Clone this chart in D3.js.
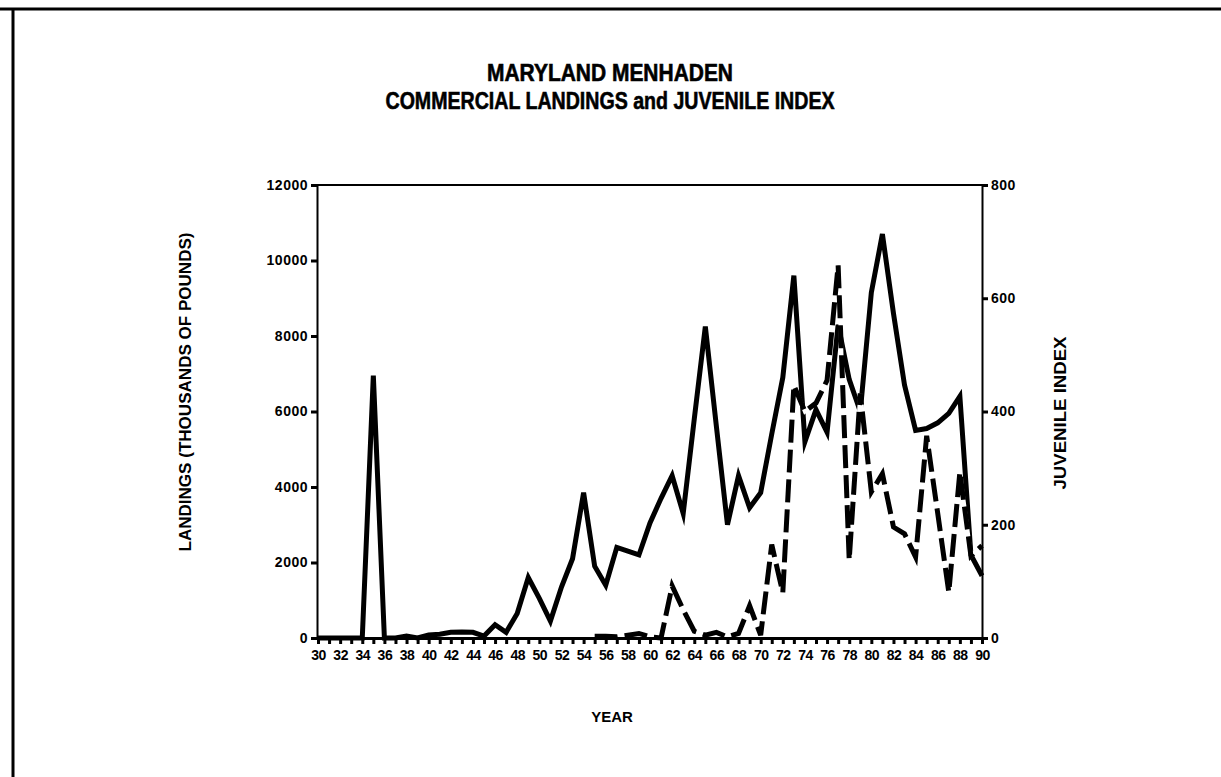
<!DOCTYPE html>
<html>
<head>
<meta charset="utf-8">
<script src="https://cdn.jsdelivr.net/npm/d3@7"></script>
<style>
  html, body { margin: 0; padding: 0; background: #fff; }
  svg text { font-family: "Liberation Sans", Arial, Helvetica, sans-serif; font-weight: bold; fill: #000; }
</style>
</head>
<body>
<svg id="chart" width="1221" height="777"></svg>
<script>
// Maryland menhaden: commercial landings (thousands of pounds) and juvenile index, 1930-1990
const landingYears = d3.range(30, 91);
const landings = [
  0, 0, 0, 0, 0, 6950, 0, 0, 50, 0,                     // 30-39
  80, 100, 150, 160, 150, 50, 350, 150, 650, 1600,       // 40-49
  1050, 450, 1350, 2100, 3850, 1900, 1400, 2400, 2300, 2200, // 50-59
  3050, 3700, 4300, 3300, 5800, 8250, 5600, 3000, 4300, 3450, // 60-69
  3850, 5400, 6900, 9600, 5200, 6050, 5450, 8300, 6850, 6000, // 70-79
  9150, 10700, 8600, 6700, 5500, 5550, 5700, 5950, 6400, 2200, 1650 // 80-90
];

const juvenileYears = d3.range(55, 91);
const juvenileIndex = [
  3, 3, 2, 5, 8,                                   // 55-59
  2, 0, 92, 50, 12, 5, 10, 2, 8, 57,               // 60-69
  5, 165, 80, 446, 400, 415, 455, 658, 138, 432,   // 70-79
  258, 290, 196, 184, 143, 357, 220, 81, 293, 145, 163 // 80-90
];

const leftTicks = [0, 2000, 4000, 6000, 8000, 10000, 12000];
const rightTicks = [0, 200, 400, 600, 800];
const yearLabels = d3.range(30, 91, 2);

const titleLines = ["MARYLAND MENHADEN", "COMMERCIAL LANDINGS and JUVENILE INDEX"];
const leftLabel = "LANDINGS (THOUSANDS OF POUNDS)";
const rightLabel = "JUVENILE INDEX";
const xLabel = "YEAR";

const svg = d3.select("#chart");
svg.append("rect").attr("width", 1221).attr("height", 777).attr("fill", "#fff");

// page frame (top and left rules)
svg.append("line").attr("x1", 0).attr("x2", 1221).attr("y1", 9).attr("y2", 9)
  .attr("stroke", "#000").attr("stroke-width", 3);
svg.append("line").attr("x1", 13).attr("x2", 13).attr("y1", 8).attr("y2", 777)
  .attr("stroke", "#000").attr("stroke-width", 3);

const plot = { left: 317, right: 982, top: 185, bottom: 638 };

const x = d3.scaleLinear().domain([30, 90]).range([plot.left + 1, plot.right]);
const yL = d3.scaleLinear().domain([0, 12000]).range([plot.bottom, plot.top]);
const yR = d3.scaleLinear().domain([0, 800]).range([plot.bottom, plot.top]);

// title, two centred lines in a heavy condensed face
const title = svg.append("g");
title.append("text").attr("x", 610).attr("y", 81).attr("text-anchor", "middle")
  .attr("font-size", 24).attr("textLength", 246).attr("lengthAdjust", "spacingAndGlyphs")
  .attr("stroke", "#000").attr("stroke-width", 0.6)
  .text(titleLines[0]);
title.append("text").attr("x", 610).attr("y", 109).attr("text-anchor", "middle")
  .attr("font-size", 24).attr("textLength", 449).attr("lengthAdjust", "spacingAndGlyphs")
  .attr("stroke", "#000").attr("stroke-width", 0.6)
  .text(titleLines[1]);

// series lines
const landingLine = d3.line().x((d, i) => x(landingYears[i])).y(d => yL(d));
const juvenileLine = d3.line().x((d, i) => x(juvenileYears[i])).y(d => yR(d));

svg.append("path").datum(landings).attr("d", landingLine)
  .attr("fill", "none").attr("stroke", "#000").attr("stroke-width", 5)
  .attr("stroke-linejoin", "miter").attr("stroke-miterlimit", 6);

// juvenile index: white knock-out under the dashes, then black dashes
svg.append("path").datum(juvenileIndex).attr("d", juvenileLine)
  .attr("fill", "none").attr("stroke", "#fff").attr("stroke-width", 4);
svg.append("path").datum(juvenileIndex).attr("d", juvenileLine)
  .attr("fill", "none").attr("stroke", "#000").attr("stroke-width", 5)
  .attr("stroke-dasharray", "23,7").attr("stroke-linejoin", "miter");

// plot frame top
svg.append("line").attr("x1", plot.left).attr("x2", plot.right)
  .attr("y1", plot.top).attr("y2", plot.top).attr("stroke", "#000").attr("stroke-width", 2);

// left axis
const axL = svg.append("g").attr("transform", `translate(${plot.left},0)`)
  .call(d3.axisLeft(yL).tickValues(leftTicks).tickSize(6).tickSizeOuter(0).tickPadding(3)
    .tickFormat(d3.format("d")));
// right axis
const axR = svg.append("g").attr("transform", `translate(${plot.right},0)`)
  .call(d3.axisRight(yR).tickValues(rightTicks).tickSize(6).tickSizeOuter(0).tickPadding(3)
    .tickFormat(d3.format("d")));
// bottom axis, a tick every year, labels every second year
const axB = svg.append("g").attr("transform", `translate(0,${plot.bottom})`)
  .call(d3.axisBottom(x).tickValues(landingYears).tickSize(6).tickSizeOuter(0).tickPadding(6)
    .tickFormat(d => (yearLabels.includes(d) ? d : "")));

[axL, axR].forEach(g => {
  g.select(".domain").attr("stroke", "#000").attr("stroke-width", 2);
  g.selectAll(".tick line").attr("stroke", "#000").attr("stroke-width", 3);
  g.selectAll(".tick text").attr("font-size", 14).attr("font-family", null)
    .attr("letter-spacing", "0.5px");
});
axB.select(".domain").attr("stroke", "#000").attr("stroke-width", 3);
axB.selectAll(".tick line").attr("stroke", "#000").attr("stroke-width", 3);
axB.selectAll(".tick text").attr("font-size", 14).attr("font-family", null)
  .attr("letter-spacing", "-0.5px");
svg.selectAll(".tick text").style("font-weight", "bold");

// axis titles
svg.append("text").attr("transform", "translate(191,392) rotate(-90)")
  .attr("text-anchor", "middle").attr("font-size", 16)
  .attr("textLength", 319).attr("lengthAdjust", "spacingAndGlyphs").text(leftLabel);
svg.append("text").attr("transform", "translate(1066,413) rotate(-90)")
  .attr("text-anchor", "middle").attr("font-size", 16)
  .attr("textLength", 153).attr("lengthAdjust", "spacingAndGlyphs").text(rightLabel);
svg.append("text").attr("x", 612).attr("y", 722).attr("text-anchor", "middle")
  .attr("font-size", 15).text(xLabel);
</script>
</body>
</html>
